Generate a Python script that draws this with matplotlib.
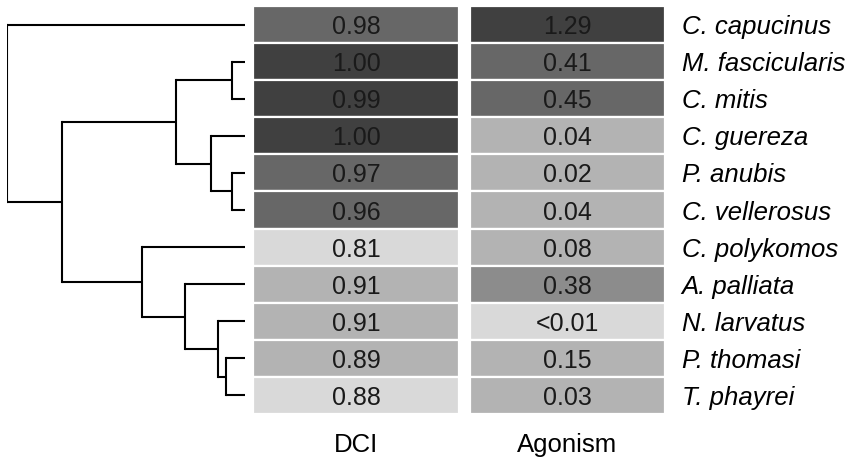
import matplotlib.pyplot as plt
from matplotlib.patches import Rectangle

plt.rcParams['font.family'] = ['Liberation Sans', 'DejaVu Sans']

species = ['C. capucinus', 'M. fascicularis', 'C. mitis', 'C. guereza', 'P. anubis',
           'C. vellerosus', 'C. polykomos', 'A. palliata', 'N. larvatus', 'P. thomasi',
           'T. phayrei']
columns = ['DCI', 'Agonism']
dci = ['0.98', '1.00', '0.99', '1.00', '0.97', '0.96', '0.81', '0.91', '0.91', '0.89', '0.88']
agonism = ['1.29', '0.41', '0.45', '0.04', '0.02', '0.04', '0.08', '0.38', '<0.01', '0.15', '0.03']
# shade class of each cell (0 = lightest, 4 = darkest)
dci_shade = [3, 4, 4, 4, 3, 3, 0, 1, 1, 1, 0]
agonism_shade = [4, 3, 3, 1, 1, 1, 1, 2, 0, 1, 1]
greys = ['#d9d9d9', '#b3b3b3', '#8c8c8c', '#676767', '#404040']

# dendrogram: (height, [children]); leaves are row indices
tree = (1.0, [0, (0.77, [(0.29, [(0.055, [1, 2]), (0.143, [3, (0.055, [4, 5])])]),
                          (0.433, [6, (0.252, [7, (0.113, [8, (0.08, [9, 10])])])])])])

fig = plt.figure(figsize=(8.55, 4.61), dpi=100)
W, H = 855, 461
top, bottom = 6, 414
n = len(species)

ax = fig.add_axes([253 / W, 1 - bottom / H, 412 / W, (bottom - top) / H])
col_left = [0, 217]
col_width = [206, 195]
for c, (vals, shades) in enumerate([(dci, dci_shade), (agonism, agonism_shade)]):
    for i in range(n):
        ax.add_patch(Rectangle((col_left[c], i - 0.5), col_width[c], 1,
                               facecolor=greys[shades[i]], edgecolor='white', lw=1.6))
        ax.text(col_left[c] + col_width[c] / 2, i, vals[i], ha='center',
                va='center_baseline', fontsize=18, color='#1a1a1a')
ax.set_xlim(0, 412)
ax.set_ylim(n - 0.5, -0.5)
ax.set_yticks(range(n))
ax.set_yticklabels(species, fontstyle='italic', fontsize=18.5)
ax.yaxis.tick_right()
ax.set_xticks([col_left[c] + col_width[c] / 2 for c in range(2)])
ax.set_xticklabels(columns, fontsize=18.5)
ax.tick_params(length=0, pad=12)
ax.tick_params(axis='x', pad=14)
for s in ax.spines.values():
    s.set_visible(False)

dax = fig.add_axes([7 / W, 1 - bottom / H, 238 / W, (bottom - top) / H])


def draw(node):
    if isinstance(node, int):
        return node, 0.0
    h, children = node
    pts = [draw(ch) for ch in children]
    for y, ch_h in pts:
        dax.plot([ch_h, h], [y, y], color='black', lw=1.5, solid_capstyle='butt')
    ys = [p[0] for p in pts]
    dax.plot([h, h], [min(ys), max(ys)], color='black', lw=1.5, solid_capstyle='projecting')
    return sum(ys) / len(ys), h


draw(tree)
dax.set_xlim(1.0, 0.0)
dax.set_ylim(n - 0.5, -0.5)
dax.axis('off')

fig.savefig('out.png', dpi=100)
